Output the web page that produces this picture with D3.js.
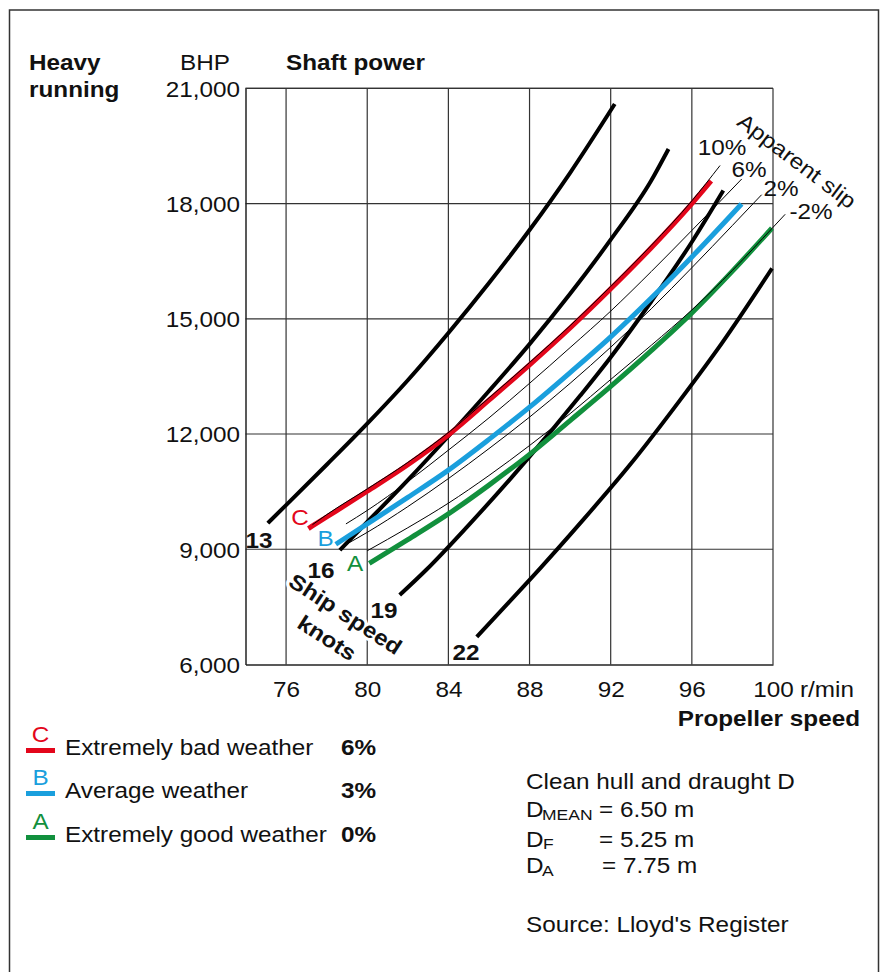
<!DOCTYPE html>
<html><head><meta charset="utf-8">
<script src="https://cdn.jsdelivr.net/npm/d3@7"></script>
<style>
html,body{margin:0;padding:0;background:#fff;}
svg{display:block;font-family:"Liberation Sans",Arial,Helvetica,sans-serif;}
</style></head>
<body>
<svg id="chart" width="884" height="972"></svg>
<script>
// ---------- data ----------
const xTicks = [76, 80, 84, 88, 92, 96, 100];
const yTicks = [6000, 9000, 12000, 15000, 18000, 21000];
const xGrid = [76, 80, 84, 88, 92, 96, 100];
const yGrid = [9000, 12000, 15000, 18000, 21000];

// ship speed curves [r/min, BHP]
const speed13 = [[75.1,9680],[76,10150],[78,11200],[80,12270],[82,13400],[84,14630],[86,15930],[88,17310],[90,18800],[92.2,20590]];
const speed16 = [[78.65,8980],[80,9710],[82,10800],[84.1,12000],[86,13120],[88,14340],[90,15650],[92,17060],[94,18600],[94.85,19420]];
const speed19 = [[81.6,7810],[82.9,8460],[85,9630],[87,10800],[88,11410],[90.5,13000],[92,14000],[94,15450],[96,17000],[97.55,18340]];
const speed22 = [[85.4,6720],[87,7630],[88.5,8490],[90.5,9680],[93,11230],[95.4,12870],[97.5,14380],[99.95,16310]];

// weather curves
const weatherC = [[77.1,9540],[78,9840],[80,10510],[82,11200],[84.1,12020],[86,12880],[88,13800],[90,14760],[92,15780],[94,16850],[96,18000],[96.95,18590]];
const weatherB = [[78.45,9130],[80,9660],[82,10350],[84,11060],[86,11860],[88,12700],[90,13600],[92,14530],[94,15540],[96,16610],[98.45,17990]];
const weatherA = [[80.1,8630],[82,9250],[84,9920],[86,10670],[88,11470],[90,12350],[92,13240],[94,14170],[96,15150],[98,16240],[99.95,17360]];

// apparent slip lines
const slip10 = [[77.3,9640],[78,9900],[80,10570],[82,11260],[84.1,12080],[86,12940],[88,13860],[90,14820],[92,15840],[94,16910],[96,18070],[97.39,18990]];
const slip6  = [[78.95,9660],[80,10010],[82,10760],[84,11580],[86,12420],[88,13320],[90,14250],[92,15200],[94,16230],[96,17300],[98.46,18640]];
const slip2  = [[78.8,9080],[80,9440],[82,10110],[84,10840],[86,11620],[88,12440],[90,13320],[92,14260],[94,15260],[96,16330],[98,17430],[99.44,18230]];
const slipM2 = [[80,8960],[82,9560],[84,10200],[86,10920],[88,11700],[90,12530],[92,13420],[94,14310],[96,15230],[98,16260],[100,17380],[100.6,17720]];

const speedLabels = ["13", "16", "19", "22"];
const slipLabels = ["10%", "6%", "2%", "-2%"];
const weatherLetters = ["C", "B", "A"];
const weatherNames = ["Extremely bad weather", "Average weather", "Extremely good weather"];
const weatherMargins = ["6%", "3%", "0%"];

// ---------- setup ----------
const RED = "#e3061b", BLUE = "#1a9fdd", GREEN = "#11903d", INK = "#111";
const SX = 1.13, FS = 21.5;
const svg = d3.select("#chart");
const x = d3.scaleLinear().domain([74, 100]).range([245.5, 773]);
const y = d3.scaleLinear().domain([6000, 21000]).range([664.5, 88.3]);

function T(px, py, str, o = {}) {
  const t = svg.append("text")
    .attr("transform", `translate(${px},${py}) rotate(${o.rot || 0}) scale(${o.sx || SX},1)`)
    .attr("text-anchor", o.anchor || "start")
    .attr("font-size", o.size || FS)
    .attr("font-weight", o.bold ? "bold" : "normal")
    .attr("fill", o.fill || INK)
    .text(str);
  if (o.dy) t.attr("dy", o.dy);
  if (o.halo) t.attr("stroke", "#fff").attr("stroke-width", o.halo)
      .attr("paint-order", "stroke").attr("stroke-linejoin", "round");
  return t;
}

// outer frame (open at bottom)
svg.append("path").attr("d", "M9.5,990V10H878.5V990")
  .attr("fill", "none").attr("stroke", "#333").attr("stroke-width", 1.5);

// grid
const grid = svg.append("g").attr("stroke", "#333").attr("stroke-width", 1.2);
grid.selectAll("line.v").data(xGrid).join("line").attr("class", "v")
  .attr("x1", d => x(d)).attr("x2", d => x(d)).attr("y1", y(6000)).attr("y2", y(21000));
grid.selectAll("line.h").data(yGrid).join("line").attr("class", "h")
  .attr("x1", x(74)).attr("x2", x(100)).attr("y1", d => y(d)).attr("y2", d => y(d));

// axes
const yAxis = svg.append("g").attr("transform", `translate(${x(74)},0)`)
  .call(d3.axisLeft(y).tickValues(yTicks).tickSize(0).tickPadding(5.5 / SX).tickFormat(d3.format(",")));
yAxis.select(".domain").attr("stroke", "#222").attr("stroke-width", 1.5);
yAxis.selectAll("text").attr("font-size", FS).attr("fill", INK)
  .attr("font-family", "Liberation Sans, Arial, sans-serif")
  .attr("transform", `scale(${SX},1)`).attr("dy", "0.36em");

const xAxis = svg.append("g").attr("transform", `translate(0,${y(6000)})`)
  .call(d3.axisBottom(x).tickValues(xTicks).tickSize(0).tickPadding(17).tickFormat(d3.format("d")));
xAxis.select(".domain").attr("stroke", "#222").attr("stroke-width", 1.6);
xAxis.selectAll("text").attr("font-size", FS).attr("fill", INK)
  .attr("font-family", "Liberation Sans, Arial, sans-serif")
  .attr("transform", `scale(${SX},1)`);
T(x(100) + 27, 697, "r/min");

// plot top border
svg.append("line").attr("x1", x(74)).attr("x2", x(100)).attr("y1", y(21000)).attr("y2", y(21000))
  .attr("stroke", "#333").attr("stroke-width", 1.2);

// curves
const line = d3.line().x(d => x(d[0])).y(d => y(d[1])).curve(d3.curveMonotoneX);
const speedCurves = [speed13, speed16, speed19, speed22];
svg.append("g").selectAll("path").data(speedCurves).join("path")
  .attr("d", line).attr("fill", "none").attr("stroke", "#000").attr("stroke-width", 4);

const weatherCurves = [weatherC, weatherB, weatherA];
const weatherColors = [RED, BLUE, GREEN];
svg.append("g").selectAll("path").data(weatherCurves).join("path")
  .attr("d", line).attr("fill", "none").attr("stroke", (d, i) => weatherColors[i]).attr("stroke-width", 5);

const slipCurves = [slip10, slip6, slip2, slipM2];
svg.append("g").selectAll("path").data(slipCurves).join("path")
  .attr("d", line).attr("fill", "none").attr("stroke", "#000").attr("stroke-width", 1);

// ---------- labels ----------
T(29, 70, "Heavy", { bold: true });
T(29, 97, "running", { bold: true });
T(205, 70, "BHP", { anchor: "middle" });
T(286, 70, "Shaft power", { bold: true });
T(860, 726, "Propeller speed", { bold: true, anchor: "end" });

// weather letters on curves
const letterPos = [[300, 525], [325.5, 545.5], [355, 570.5]];
weatherLetters.forEach((s, i) => T(letterPos[i][0], letterPos[i][1], s, { anchor: "middle", fill: weatherColors[i] }));

// speed labels
const speedPos = [[259, 548], [321, 577.5], [384, 618], [466, 660]];
speedLabels.forEach((s, i) => T(speedPos[i][0], speedPos[i][1], s, { bold: true, anchor: "middle" }));

T(345.5, 614, "Ship speed", { bold: true, anchor: "middle", rot: 33, dy: "0.35em", halo: 6 });
T(327, 638, "knots", { bold: true, anchor: "middle", rot: 33, dy: "0.35em", halo: 6 });

// apparent slip
T(797, 161, "Apparent slip", { anchor: "middle", rot: 37, dy: "0.35em" });
const slipPos = [[722, 155], [749, 176.5], [781, 196], [811, 219]];
slipLabels.forEach((s, i) => T(slipPos[i][0], slipPos[i][1], s, { anchor: "middle" }));

// legend
const legY = [755, 798, 842];
weatherLetters.forEach((s, i) => {
  T(40.5, legY[i] - 13, s, { anchor: "middle", fill: weatherColors[i] });
  svg.append("line").attr("x1", 26).attr("x2", 55)
    .attr("y1", legY[i] - 4.5).attr("y2", legY[i] - 4.5)
    .attr("stroke", weatherColors[i]).attr("stroke-width", 5);
  T(65, legY[i], weatherNames[i]);
  T(341, legY[i], weatherMargins[i], { bold: true });
});

// draught note
T(526, 789, "Clean hull and draught D");
T(526, 817, "D"); T(542, 819.5, "MEAN", { size: 15.5 }); T(599, 817, "= 6.50 m");
T(526, 846.5, "D"); T(543, 849, "F", { size: 15.5 }); T(599, 846.5, "= 5.25 m");
T(526, 873, "D"); T(542, 875.5, "A", { size: 15.5 }); T(602, 873, "= 7.75 m");
T(526, 932, "Source: Lloyd's Register");
</script>
</body></html>
